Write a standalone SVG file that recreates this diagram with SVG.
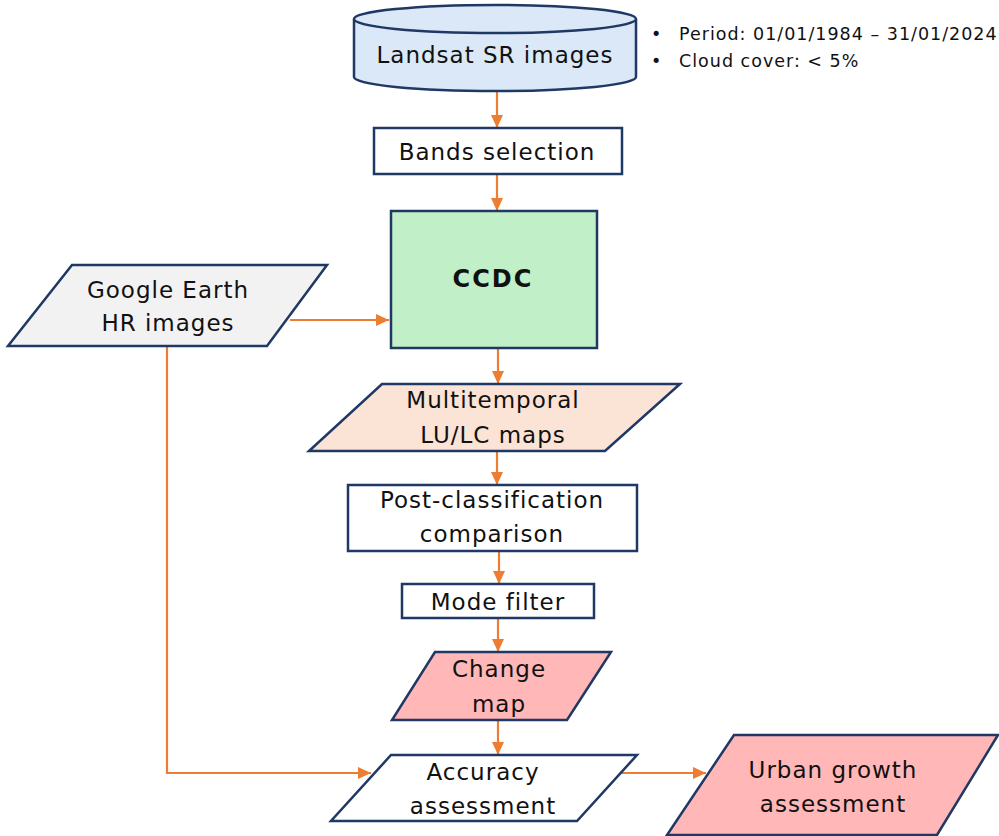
<svg xmlns="http://www.w3.org/2000/svg" width="999" height="836" viewBox="0 0 999 836">
  <defs>
    <marker id="arrow" markerUnits="userSpaceOnUse" markerWidth="14" markerHeight="12" refX="13" refY="6" orient="auto">
      <path d="M0,0 L13,6 L0,12 Z" fill="#ed7d31"/>
    </marker>
    <style>
      .shape { stroke: #1f3864; stroke-width: 2.5; }
      .t { font-family: "DejaVu Sans", "Liberation Sans", sans-serif; font-size: 23px; letter-spacing: 1px; fill: #111111; text-anchor: middle; }
      .b { font-weight: bold; font-size: 24px; letter-spacing: 2px; }
      .note { font-family: "DejaVu Sans", "Liberation Sans", sans-serif; font-size: 17.5px; letter-spacing: 1px; fill: #111111; }
      .link { fill: none; stroke: #ed7d31; stroke-width: 2.2; }
      .arr { marker-end: url(#arrow); }
    </style>
  </defs>
  <rect width="999" height="836" fill="#ffffff"/>

  <!-- connectors -->
  <g id="connectors">
    <line class="link arr" x1="497" y1="91" x2="497" y2="128"/>
    <line class="link arr" x1="497" y1="174" x2="497" y2="211"/>
    <line class="link arr" x1="290" y1="320" x2="389" y2="320"/>
    <line class="link arr" x1="498" y1="348" x2="498" y2="384"/>
    <line class="link arr" x1="497" y1="451" x2="497" y2="485"/>
    <line class="link arr" x1="499" y1="551" x2="499" y2="584"/>
    <line class="link arr" x1="498" y1="618" x2="498" y2="652"/>
    <line class="link arr" x1="498" y1="720" x2="498" y2="755"/>
    <polyline class="link arr" points="167,347 167,773 371,773"/>
    <line class="link arr" x1="620" y1="773" x2="706" y2="773"/>
  </g>

  <!-- data source: cylinder -->
  <g id="landsat">
    <path class="shape" fill="#dae8f7" d="M354,19 L354,77 A141,14 0 0 0 636,77 L636,19"/>
    <ellipse class="shape" fill="#dae8f7" cx="495" cy="19" rx="141" ry="14"/>
    <text class="t" x="495" y="63">Landsat SR images</text>
  </g>

  <g id="notes">
    <text class="note" x="651" y="40">•</text>
    <text class="note" x="679" y="40">Period: 01/01/1984 – 31/01/2024</text>
    <text class="note" x="651" y="67">•</text>
    <text class="note" x="679" y="67">Cloud cover: &lt; 5%</text>
  </g>

  <g id="bands">
    <rect class="shape" fill="#ffffff" x="374" y="128" width="248" height="46"/>
    <text class="t" x="497" y="160">Bands selection</text>
  </g>

  <g id="ccdc">
    <rect class="shape" fill="#c1f0c8" x="391" y="211" width="206" height="137"/>
    <text class="t b" x="493" y="287">CCDC</text>
  </g>

  <g id="google">
    <polygon class="shape" fill="#f2f2f2" points="72,265 327,265 267,346 8,346"/>
    <text class="t" x="168" y="298">Google Earth</text>
    <text class="t" x="168" y="331">HR images</text>
  </g>

  <g id="multitemporal">
    <polygon class="shape" fill="#fbe3d6" points="382,384 680,384 605,451 309,451"/>
    <text class="t" x="493" y="408">Multitemporal</text>
    <text class="t" x="493" y="443">LU/LC maps</text>
  </g>

  <g id="postclass">
    <rect class="shape" fill="#ffffff" x="348" y="485" width="289" height="66"/>
    <text class="t" x="492" y="508">Post-classification</text>
    <text class="t" x="492" y="542">comparison</text>
  </g>

  <g id="mode">
    <rect class="shape" fill="#ffffff" x="402" y="584" width="192" height="34"/>
    <text class="t" x="498" y="610">Mode filter</text>
  </g>

  <g id="change">
    <polygon class="shape" fill="#ffb7b7" points="435,652 611,652 567,720 392,720"/>
    <text class="t" x="499" y="677">Change</text>
    <text class="t" x="499" y="712">map</text>
  </g>

  <g id="accuracy">
    <polygon class="shape" fill="#ffffff" points="391,755 637,755 577,821 331,821"/>
    <text class="t" x="483" y="780">Accuracy</text>
    <text class="t" x="483" y="814">assessment</text>
  </g>

  <g id="urban">
    <polygon class="shape" fill="#ffb7b7" points="734,735 998,735 937,835 667,835"/>
    <text class="t" x="833" y="778">Urban growth</text>
    <text class="t" x="833" y="812">assessment</text>
  </g>
</svg>
